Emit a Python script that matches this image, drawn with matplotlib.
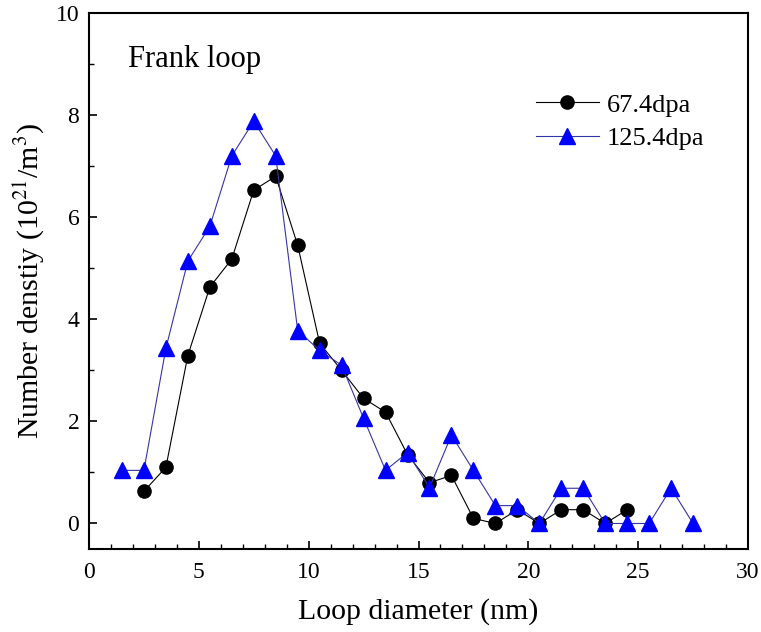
import matplotlib
matplotlib.use("Agg")
import matplotlib.pyplot as plt
from matplotlib.ticker import MultipleLocator

plt.rcParams['font.family'] = ['Liberation Serif', 'DejaVu Serif']
plt.rcParams['mathtext.fontset'] = 'stix'

x_674 = [2.5, 3.5, 4.5, 5.5, 6.5, 7.5, 8.5, 9.5, 10.5, 11.5, 12.5, 13.5, 14.5,
         15.5, 16.5, 17.5, 18.5, 19.5, 20.5, 21.5, 22.5, 23.5, 24.5]
y_674 = [0.63, 1.1, 3.29, 4.63, 5.18, 6.53, 6.80, 5.45, 3.53, 3.0, 2.45, 2.18, 1.35,
         0.8, 0.94, 0.1, 0.0, 0.27, 0.0, 0.27, 0.27, 0.0, 0.27]

x_1254 = [1.5, 2.5, 3.5, 4.5, 5.5, 6.5, 7.5, 8.5, 9.5, 10.5, 11.5, 12.5, 13.5, 14.5,
          15.5, 16.5, 17.5, 18.5, 19.5, 20.5, 21.5, 22.5, 23.5, 24.5, 25.5, 26.5, 27.5]
y_1254 = [1.04, 1.04, 3.43, 5.14, 5.82, 7.2, 7.88, 7.2, 3.78, 3.39, 3.1, 2.06, 1.04, 1.39,
          0.7, 1.73, 1.04, 0.35, 0.35, 0.0, 0.69, 0.69, 0.0, 0.0, 0.0, 0.69, 0.0]

labels = ['67.4dpa', '125.4dpa']

fig = plt.figure(figsize=(7.61, 6.32), dpi=100)
ax = fig.add_axes([89/761, 1-549/632, (748-89)/761, (549-13)/632])

ax.plot(x_674, y_674, '-o', color='black', lw=0.8, ms=9.5, mfc='black', mec='black', label=labels[0])
ax.plot(x_1254, y_1254, '-^', color='#3535a5', lw=0.8, ms=11, mfc='#0000ff', mec='#0000ff', label=labels[1])

ax.set_xlim(0, 30)
ax.set_ylim(-0.5, 10)
ax.set_xticks([0, 5, 10, 15, 20, 25, 30])
ax.set_yticks([0, 2, 4, 6, 8, 10])
ax.xaxis.set_minor_locator(MultipleLocator(1))
ax.yaxis.set_minor_locator(MultipleLocator(1))
ax.tick_params(which='both', direction='in', top=False, right=False, labelsize=17)
ax.tick_params(which='major', length=6, width=1.2)
ax.tick_params(which='minor', length=3.5, width=1.0)
ax.tick_params(axis='x', pad=9)
ax.tick_params(axis='y', pad=7)
for s in ax.spines.values():
    s.set_linewidth(1.5)

ax.set_xlabel('Loop diameter (nm)', fontsize=21.5, labelpad=11)
ax.set_ylabel(r'Number denstiy (10$^{21}$/m$^{3}$)', fontsize=21.5, labelpad=7)
ax.text(0.059, 0.899, 'Frank loop', transform=ax.transAxes, fontsize=22, va='baseline')

leg = ax.legend(loc='upper right', bbox_to_anchor=(0.97, 0.895), frameon=False, fontsize=19,
                handlelength=2.4, handletextpad=0.3, labelspacing=0.38)

fig.savefig('out.png', dpi=100)
